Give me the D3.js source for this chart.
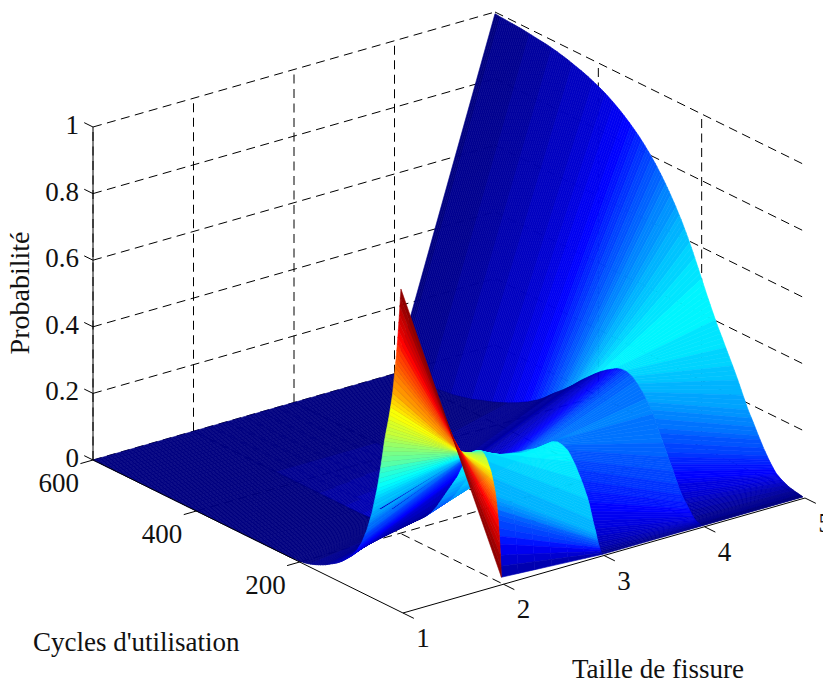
<!DOCTYPE html>
<html>
<head>
<meta charset="utf-8">
<title>Probabilité</title>
<script src="https://cdn.jsdelivr.net/npm/d3@7.9.0/dist/d3.min.js"></script>
<style>
    body { margin: 0; background: #fff; }
    svg { display: block; }
    text { font-family: "Liberation Serif", serif; fill: #111; }
</style>
</head>
<body>
<svg id="chart" width="823" height="684"></svg>
<script>
// Data
const sizeTicks = [1, 2, 3, 4, 5];
const cycleTicks = [200, 400, 600];
const probTicks = [0, 0.2, 0.4, 0.6, 0.8, 1];

const cycles = [
    4, 7, 10, 13, 16, 20, 24, 28, 32, 36, 40, 45, 50, 55, 60, 65, 70,
    80, 90, 100, 110, 120, 130, 140, 150, 160, 170, 180, 190, 200,
    210, 220, 230, 240, 250, 260, 270, 280, 290, 300,
    310, 320, 330, 340, 350, 360, 370, 380, 390, 400,
    410, 420, 430, 440, 450, 460, 470, 480, 490, 500,
    510, 520, 530, 540, 550, 560, 570, 580, 590, 600
];

// Probability of each crack size along the cycles
const size1 = [
    .97, .89, .82, .76, .71, .645, .60, .56, .525, .488, .44, .385, .335, .295, .255, .225, .195,
    .15, .118, .094, .078, .062, .05, .04, .03, .022, .015, .009, .005, .002,
    .001, 0, 0, 0, 0, 0, 0, 0, 0, 0,
    0, 0, 0, 0, 0, 0, 0, 0, 0, 0,
    0, 0, 0, 0, 0, 0, 0, 0, 0, 0,
    0, 0, 0, 0, 0, 0, 0, 0, 0, 0
];
const size2 = [
    .018, .115, .185, .23, .265, .295, .32, .335, .35, .36, .366, .367, .363, .358, .35, .34, .33,
    .295, .255, .225, .195, .165, .135, .11, .09, .075, .06, .05, .04, .03,
    .022, .016, .011, .007, .004, .002, .001, 0, 0, 0,
    0, 0, 0, 0, 0, 0, 0, 0, 0, 0,
    0, 0, 0, 0, 0, 0, 0, 0, 0, 0,
    0, 0, 0, 0, 0, 0, 0, 0, 0, 0
];
const size3 = [
    0, .012, .025, .04, .06, .08, .105, .13, .15, .165, .18, .197, .212, .228, .24, .252, .262,
    .27, .272, .265, .25, .235, .222, .212, .202, .19, .18, .17, .16, .15,
    .143, .137, .13, .12, .105, .09, .075, .062, .05, .04,
    .032, .025, .02, .015, .012, .009, .007, .005, .004, .003,
    .002, .001, 0, 0, 0, 0, 0, 0, 0, 0,
    0, 0, 0, 0, 0, 0, 0, 0, 0, 0
];
const size4 = [
    0, .001, .002, .003, .005, .01, .018, .027, .036, .045, .052, .066, .082, .1, .12, .137, .155,
    .19, .226, .262, .29, .312, .33, .344, .35, .35, .345, .335, .325, .313,
    .3, .285, .27, .255, .238, .222, .207, .193, .18, .165,
    .15, .137, .126, .115, .106, .097, .089, .081, .074, .067,
    .061, .055, .05, .044, .038, .034, .03, .026, .023, .021,
    .019, .016, .014, .012, .01, .008, .006, .004, .002, 0
];
const size5 = [
    0, .001, .002, .003, .004, .005, .007, .008, .01, .013, .016, .02, .025, .03, .04, .05, .062,
    .088, .118, .15, .18, .217, .255, .29, .323, .357, .39, .427, .465, .505,
    .545, .584, .62, .653, .683, .711, .737, .761, .783, .803,
    .821, .838, .853, .867, .88, .892, .903, .913, .922, .93,
    .937, .944, .95, .955, .96, .965, .969, .973, .976, .979,
    .981, .983, .985, .987, .989, .99, .991, .992, .993, .995
];
const sizeSeries = [size1, size2, size3, size4, size5];

// Colour level of each cell between two sizes (stops along the cycles)
const cell1Stops = [4, 12, 25, 35, 45, 55, 77, 100, 150, 200, 600];
const cell1Levels = [1, .82, .62, .55, .42, .33, .18, .08, .02, 0, 0];
const cell2Stops = [4, 5, 8, 15, 33, 52, 72, 91, 143, 180, 230, 300, 400, 600];
const cell2Levels = [.02, .07, .16, .3, .33, .35, .37, .37, .34, .25, .12, .05, .01, 0];
// the size 2 end of that cell goes darker after the ridge
const cell2StartLevels = [.02, .07, .16, .3, .33, .35, .36, .34, .18, .1, .07, .04, .01, 0];
const cell3Stops = [4, 10, 20, 30, 50, 85, 110, 143, 170, 200, 220, 250, 300, 400, 600];
const cell3Levels = [.01, .05, .1, .14, .18, .24, .25, .22, .14, .08, .06, .04, .02, .005, 0];
const cell4Stops = [4, 25, 50, 80, 110, 150, 190, 222, 255, 294, 339, 400, 513, 600];
const cell4Levels = [0, .03, .1, .2, .28, .34, .37, .33, .27, .2, .13, .075, .03, .005];

const svg = d3.select('#chart');

// Oblique projection of the 3D box, one scale per screen offset
const originX = 403;
const originY = 613;
const sizeToX = d3.scaleLinear().domain([1, 5]).range([0, 402]);
const sizeToY = d3.scaleLinear().domain([1, 5]).range([0, -115]);
const cycleToX = d3.scaleLinear().domain([0, 600]).range([0, -310]);
const cycleToY = d3.scaleLinear().domain([0, 600]).range([0, -153]);
const probToY = d3.scaleLinear().domain([0, 1]).range([0, -333]);

const px = (p) => originX + sizeToX(p.size) + cycleToX(p.cycle);
const py = (p) => originY + sizeToY(p.size) + cycleToY(p.cycle) + probToY(p.prob);
const line = d3.line().x(px).y(py);

// Jet colormap, 64 levels like the original figure
const jetScale = d3.scaleLinear()
    .domain([0, .125, .375, .625, .875, 1])
    .range(['#000080', '#0000ff', '#00ffff', '#ffff00', '#ff0000', '#800000']);
const jet = (v) => jetScale(Math.round(v * 63) / 63);

const cellColor = [
    d3.scaleLinear().domain(cell1Stops).range(cell1Levels),
    d3.scaleLinear().domain(cell2Stops).range(cell2Levels),
    d3.scaleLinear().domain(cell3Stops).range(cell3Levels),
    d3.scaleLinear().domain(cell4Stops).range(cell4Levels)
];
const cell2Start = d3.scaleLinear().domain(cell2Stops).range(cell2StartLevels);

// Grid behind the surface
let gridSegments = [];
probTicks.forEach((prob) => {
    // back wall and right wall
    gridSegments.push([{ size: 1, cycle: 600, prob }, { size: 5, cycle: 600, prob }]);
    gridSegments.push([{ size: 5, cycle: 600, prob }, { size: 5, cycle: 0, prob }]);
});
[2, 3, 4].forEach((size) => {
    gridSegments.push([{ size, cycle: 600, prob: 0 }, { size, cycle: 600, prob: 1 }]);
    gridSegments.push([{ size, cycle: 600, prob: 0 }, { size, cycle: 0, prob: 0 }]);
});
[200, 400].forEach((cycle) => {
    gridSegments.push([{ size: 5, cycle, prob: 0 }, { size: 5, cycle, prob: 1 }]);
    gridSegments.push([{ size: 1, cycle, prob: 0 }, { size: 5, cycle, prob: 0 }]);
});
gridSegments.push([{ size: 1, cycle: 600, prob: 0 }, { size: 1, cycle: 600, prob: 1 }]);

svg.append('g')
    .selectAll('path')
    .data(gridSegments)
    .join('path')
    .attr('d', line)
    .attr('fill', 'none')
    .attr('stroke', '#000')
    .attr('stroke-width', 1)
    .attr('stroke-dasharray', '9 5.5');

// Surface mesh: finer strips than the read rows, through a scale per size
const sizeAt = sizeSeries.map((s) => d3.scaleLinear().domain(cycles).range(s));
let meshCycles = [];
cycles.slice(1).forEach((c, i) => {
    for (let k = 0; k < 3; k++) {
        meshCycles.push(cycles[i] + (c - cycles[i]) * k / 3);
    }
});
meshCycles.push(600);

// Far corner first so the near cells paint over
let cells = [];
for (let i = meshCycles.length - 2; i >= 0; i--) {
    const near = meshCycles[i];
    const far = meshCycles[i + 1];
    const mid = (near + far) / 2;
    for (let c = 3; c >= 0; c--) {
        // the size 2 to 3 cell changes colour across, so it gets split along the size
        const splits = c === 1 ? 6 : 1;
        for (let s = splits - 1; s >= 0; s--) {
            const a = s / splits;
            const b = (s + 1) / splits;
            const probAt = (cycle, f) => sizeAt[c](cycle) + (sizeAt[c + 1](cycle) - sizeAt[c](cycle)) * f;
            const level = c === 1
                ? cell2Start(mid) + (cellColor[1](mid) - cell2Start(mid)) * Math.min(1, (a + b))
                : cellColor[c](mid);
            cells.push({
                level,
                points: [
                    { size: c + 1 + a, cycle: near, prob: probAt(near, a) },
                    { size: c + 1 + b, cycle: near, prob: probAt(near, b) },
                    { size: c + 1 + b, cycle: far, prob: probAt(far, b) },
                    { size: c + 1 + a, cycle: far, prob: probAt(far, a) }
                ]
            });
        }
    }
}

svg.append('g')
    .selectAll('path')
    .data(cells)
    .join('path')
    .attr('d', (d) => line(d.points) + 'Z')
    .attr('fill', (d) => jet(d.level))
    .attr('stroke', (d) => jet(d.level))
    .attr('stroke-width', 0.6);

// Solid axes
const axisSegments = [
    [{ size: 1, cycle: 600, prob: 0 }, { size: 1, cycle: 600, prob: 1 }],
    [{ size: 1, cycle: 600, prob: 0 }, { size: 1, cycle: 0, prob: 0 }],
    [{ size: 1, cycle: 0, prob: 0 }, { size: 5, cycle: 0, prob: 0 }]
];
probTicks.forEach((prob) => {
    axisSegments.push([{ size: 1, cycle: 600, prob }, { size: 1, cycle: 617, prob }]);
});
cycleTicks.forEach((cycle) => {
    axisSegments.push([{ size: 1, cycle, prob: 0 }, { size: 0.875, cycle, prob: 0 }]);
});
sizeTicks.forEach((size) => {
    axisSegments.push([{ size, cycle: 0, prob: 0 }, { size, cycle: -21, prob: 0 }]);
});

svg.append('g')
    .selectAll('path')
    .data(axisSegments)
    .join('path')
    .attr('d', line)
    .attr('fill', 'none')
    .attr('stroke', '#000')
    .attr('stroke-width', 1);

// Tick labels
svg.append('g')
    .selectAll('text')
    .data(probTicks)
    .join('text')
    .attr('x', 79)
    .attr('y', (d) => py({ size: 1, cycle: 600, prob: d }) + 7)
    .attr('text-anchor', 'end')
    .attr('font-size', 27)
    .text((d) => d);

svg.append('g')
    .selectAll('text')
    .data(cycleTicks)
    .join('text')
    .attr('x', (d) => px({ size: 1, cycle: d, prob: 0 }) - 14)
    .attr('y', (d) => py({ size: 1, cycle: d, prob: 0 }) + 32)
    .attr('text-anchor', 'end')
    .attr('font-size', 27)
    .text((d) => d);

svg.append('g')
    .selectAll('text')
    .data(sizeTicks)
    .join('text')
    .attr('x', (d) => px({ size: d, cycle: 0, prob: 0 }) + 20)
    .attr('y', (d) => py({ size: d, cycle: 0, prob: 0 }) + 34)
    .attr('text-anchor', 'middle')
    .attr('font-size', 27)
    .text((d) => d);

// Axis titles
svg.append('text')
    .attr('x', 33)
    .attr('y', 651)
    .attr('font-size', 27)
    .text("Cycles d'utilisation");

svg.append('text')
    .attr('x', 572)
    .attr('y', 678)
    .attr('font-size', 27)
    .text('Taille de fissure');

svg.append('text')
    .attr('transform', 'translate(29,293) rotate(-90)')
    .attr('text-anchor', 'middle')
    .attr('font-size', 28)
    .text('Probabilité');
</script>
</body>
</html>
